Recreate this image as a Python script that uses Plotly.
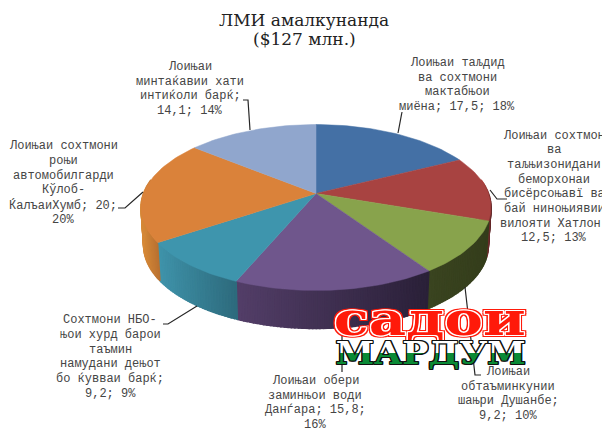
import math
import plotly.graph_objects as go

title_lines = ["ЛМИ амалкунанда", "($127 млн.)"]
values = [17.5, 12.5, 10.2, 15.8, 9.2, 20.0, 14.1]
label_lines = [
    ["Лоињаи таљдид", "ва сохтмони", "мактабњои", "миёна; 17,5; 18%"],
    ["Лоињаи сохтмон", "ва", "таљњизонидани", "беморхонаи", "бисёрсоњавї ва", "бай ниноњиявии", "вилояти Хатлон;", "12,5; 13%"],
    ["Лоињаи", "обтаъминкунии", "шањри Душанбе;", "9,2; 10%"],
    ["Лоињаи обери", "заминњои води", "Данѓара; 15,8;", "16%"],
    ["Сохтмони НБО-", "њои хурд барои", "таъмин", "намудани дењот", "бо ќувваи барќ;", "9,2; 9%"],
    ["Лоињаи сохтмони", "роњи", "автомобилгарди", "Кўлоб-", "ЌалъаиХумб; 20;", "20%"],
    ["Лоињаи", "минтаќавии хати", "интиќоли барќ;", "14,1; 14%"],
]
logo_top = "садои"
logo_bottom = "МАРДУМ"

top_colors = ["#4470a5", "#a84341", "#88a34c", "#6f568c", "#3e95ad", "#da823a", "#90a6cd"]
side_left = ["#2f4d72", "#742e2d", "#3a4420", "#533e68", "#3f93aa", "#c47a33", "#66768f"]
side_right = ["#2f4d72", "#6a2a2a", "#343d1b", "#2a2038", "#2d6a7c", "#b87030", "#66768f"]
label_pos = [(457, 85), (554, 187), (508, 394), (315, 403), (110, 357), (63, 183), (190, 89)]
leaders = [
    [(402, 112), (398, 133)],
    [(507, 199), (497, 199), (490, 190)],
    [(465, 287), (475, 375), (481, 375)],
    [(342, 329), (342, 372)],
    [(163, 324), (168, 324), (197, 306)],
    [(118, 208), (125, 208), (143, 192)],
    [(243, 100), (248, 100), (250, 130)],
]

CX, CY, R, A, P, DEPTH, SHRINK = 316, 193.5, 172.5, 80.6, 0.1687, 38, 0.985
LINE_GAP = 14.7
MARGIN = 8  # the page body's own margin


def rim(theta):
    """Project a clockwise-from-north angle (deg) on the tilted disc."""
    t = math.radians(theta)
    X, Y = math.sin(t), math.cos(t)
    k = 1 / (1 + P * Y)
    return CX + R * X * k, CY - A * Y * k


def low(theta):
    x, y = rim(theta)
    return CX + (x - CX) * SHRINK, y + DEPTH


def mix(c1, c2, f):
    a = [int(c1[i:i + 2], 16) for i in (1, 3, 5)]
    b = [int(c2[i:i + 2], 16) for i in (1, 3, 5)]
    return "rgb({},{},{})".format(*[round(p + (q - p) * f) for p, q in zip(a, b)])


def ring(color, *radii):
    out = []
    for r in radii:
        out += [f"{dx}px {dy}px 0 {color}" for dx, dy in
                ((r, 0), (-r, 0), (0, r), (0, -r), (r, r), (-r, r), (r, -r), (-r, -r))]
    return out


fig = go.Figure()
total = sum(values)
start = 0.0
spans = []
for v in values:
    end = start + v / total * 360
    spans.append((start, end))
    start = end

# side wall
for i, (a0, a1) in enumerate(spans):
    lo, hi = max(a0, 80), min(a1, 280)
    if lo >= hi:
        continue
    n = max(1, int(hi - lo))
    x_l = rim(hi)[0]
    x_r = rim(lo)[0]
    for j in range(n):
        t0 = lo + (hi - lo) * j / n
        t1 = lo + (hi - lo) * (j + 1) / n
        p = [rim(t0), rim(t1), low(t1), low(t0), rim(t0)]
        f = (rim((t0 + t1) / 2)[0] - x_l) / max(x_r - x_l, 1)
        c = mix(side_left[i], side_right[i], f)
        fig.add_trace(go.Scatter(x=[q[0] for q in p], y=[q[1] for q in p], mode="lines",
                                 fill="toself", fillcolor=c, line=dict(color=c, width=1.5),
                                 hoverinfo="skip", showlegend=False))

# leaders below the discs
for pts in leaders:
    fig.add_trace(go.Scatter(x=[q[0] for q in pts], y=[q[1] for q in pts], mode="lines",
                             line=dict(color="#262626", width=1.2), hoverinfo="skip", showlegend=False))

# top face
for i, (a0, a1) in enumerate(spans):
    n = max(4, int((a1 - a0) / 1.5))
    p = [(CX, CY)] + [rim(a0 + (a1 - a0) * j / n) for j in range(n + 1)] + [(CX, CY)]
    fig.add_trace(go.Scatter(x=[q[0] for q in p], y=[q[1] for q in p], mode="lines",
                             fill="toself", fillcolor=top_colors[i], line=dict(color=top_colors[i], width=0.5),
                             hoverinfo="skip", showlegend=False))

ann = []
for k, line in enumerate(title_lines):
    ann.append(dict(x=304, y=20 + 19 * k, text=line, showarrow=False,
                    font=dict(family="DejaVu Serif", size=17, color="#222222")))
for lines, (x, y) in zip(label_lines, label_pos):
    for k, line in enumerate(lines):
        ann.append(dict(x=x, y=y + (k - (len(lines) - 1) / 2) * LINE_GAP, text=line, showarrow=False,
                        font=dict(family="Liberation Mono", size=12, color="#454545")))
ann.append(dict(x=429, y=319, text=logo_top, showarrow=False,
                font=dict(family="DejaVu Serif", size=46, weight=700, color="#ff1a0a",
                          shadow=", ".join(ring("#ffffff", 1) + ring("#ff1a0a", 2)))))
ann.append(dict(x=430, y=353, text=logo_bottom, showarrow=False,
                font=dict(family="DejaVu Serif", size=32, weight=700, color="#0a8a35",
                          shadow=", ".join(ring("#111111", 1)))))

fig.update_layout(
    width=610 - MARGIN, height=433 - MARGIN, margin=dict(l=0, r=0, t=0, b=0),
    paper_bgcolor="white", plot_bgcolor="white", annotations=ann, showlegend=False,
    xaxis=dict(range=[MARGIN, 610], visible=False, fixedrange=True),
    yaxis=dict(range=[433, MARGIN], visible=False, fixedrange=True),
)
logo_style = """
var svg = document.querySelector('.main-svg');
var ns = 'http://www.w3.org/2000/svg';
var g = document.createElementNS(ns, 'linearGradient');
g.id = 'logoBand'; g.setAttribute('x1', '0'); g.setAttribute('y1', '0'); g.setAttribute('x2', '0'); g.setAttribute('y2', '1');
[['0.5', '#ffffff'], ['0.5', '#0a8a35']].forEach(function (s) {
  var e = document.createElementNS(ns, 'stop'); e.setAttribute('offset', s[0]); e.setAttribute('stop-color', s[1]); g.appendChild(e);
});
var d = document.createElementNS(ns, 'defs'); d.appendChild(g); svg.appendChild(d);
document.querySelectorAll('.annotation-text').forEach(function (t) {
  var s = t.textContent;
  if (s === '%s' || s === '%s') {
    t.setAttribute('textLength', s === '%s' ? '192' : '190');
    t.setAttribute('lengthAdjust', 'spacingAndGlyphs');
  }
  if (s === '%s') { t.style.setProperty('fill', 'url(#logoBand)'); }
});
""" % (logo_top, logo_bottom, logo_top, logo_bottom)
fig.write_html("out.html", config=dict(displayModeBar=False), post_script=logo_style)
